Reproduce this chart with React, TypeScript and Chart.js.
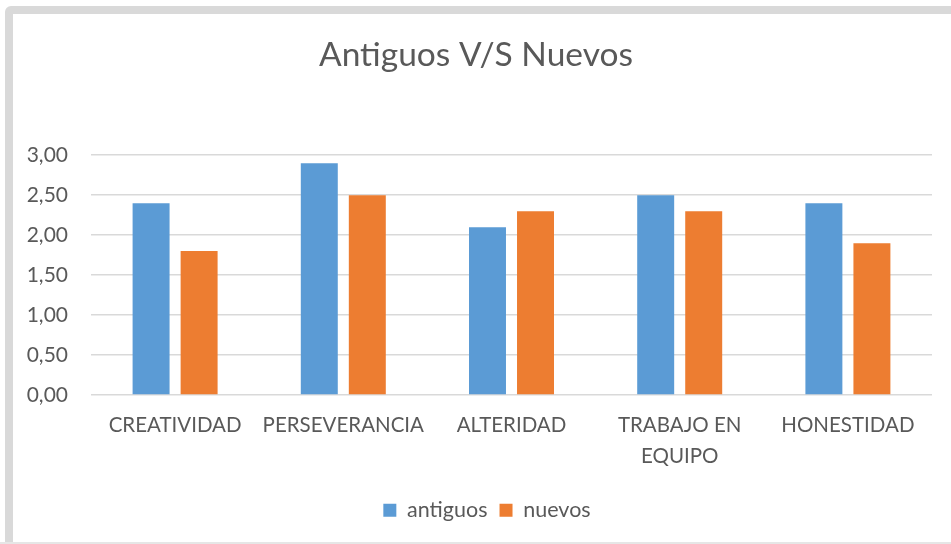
import React, { useEffect, useRef } from "react";
import { Chart, registerables } from "chart.js";

Chart.register(...registerables);

const categories: (string | string[])[] = [
  "CREATIVIDAD",
  "PERSEVERANCIA",
  "ALTERIDAD",
  ["TRABAJO EN", "EQUIPO"],
  "HONESTIDAD",
];
const antiguos = [2.4, 2.9, 2.1, 2.5, 2.4];
const nuevos = [1.8, 2.5, 2.3, 2.3, 1.9];
const yTicks = [0, 0.5, 1, 1.5, 2, 2.5, 3];
const chartTitle = "Antiguos V/S Nuevos";

const TEXT = "#595959";
const GRID = "#D9D9D9";
const FONT = "Lato, 'Open Sans', sans-serif";

const legendShift = {
  id: "legendShift",
  afterLayout(chart: any) {
    if (chart.legend) {
      chart.legend.left += 11;
      chart.legend.right += 11;
    }
  },
};

export default function App() {
  const ref = useRef<HTMLCanvasElement>(null);
  useEffect(() => {
    document.body.style.margin = "0";
    const ctx = ref.current!;
    const chart = new Chart(ctx, {
      type: "bar",
      data: {
        labels: categories,
        datasets: [
          { label: "antiguos", data: antiguos, backgroundColor: "#5B9BD5" },
          { label: "nuevos", data: nuevos, backgroundColor: "#ED7D31" },
        ],
      },
      plugins: [legendShift],
      options: {
        animation: false,
        responsive: false,
        devicePixelRatio: 1,
        layout: { padding: { left: 20, right: 19, top: 0, bottom: 13 } },
        datasets: {
          bar: { categoryPercentage: 0.571, barPercentage: 0.77 },
        },
        plugins: {
          title: {
            display: true,
            text: chartTitle,
            color: TEXT,
            font: { family: FONT, size: 33.5, weight: "normal" },
            padding: { top: 35, bottom: 80 },
          },
          legend: {
            position: "bottom",
            labels: {
              color: TEXT,
              font: { family: FONT, size: 21.5 },
              boxWidth: 13,
              boxHeight: 13,
              padding: 12,
            },
          },
          tooltip: { enabled: false },
        },
        scales: {
          x: {
            grid: { display: false },
            border: { display: false },
            afterFit: (s: any) => {
              s.height += 9;
            },
            ticks: {
              color: TEXT,
              font: { family: FONT, size: 20.5, lineHeight: 1.5 },
              maxRotation: 0,
              padding: 7,
            },
          },
          y: {
            min: 0,
            max: 3,
            afterBuildTicks: (s: any) => {
              s.ticks = yTicks.map((v) => ({ value: v }));
            },
            afterFit: (s: any) => {
              s.width = 71;
            },
            grid: { color: GRID, lineWidth: 1.5, drawTicks: false },
            border: { display: false },
            ticks: {
              color: TEXT,
              padding: 23,
              font: { family: FONT, size: 21 },
              callback: (v: any) => Number(v).toFixed(2).replace(".", ","),
            },
          },
        },
      },
    });
    return () => chart.destroy();
  }, []);
  return (
    <div style={{ position: "relative", width: 951, height: 544, overflow: "hidden", background: "#fff" }}>
      <div
        style={{
          position: "absolute",
          left: 5,
          top: 6,
          width: 1000,
          height: 544,
          boxSizing: "border-box",
          border: "8px solid #D9D9D9",
          borderRadius: 6,
        }}
      />
      <div
        style={{
          position: "absolute",
          left: 0,
          top: 542,
          width: 951,
          height: 2,
          background: "#E6E6E6",
        }}
      />
      <canvas ref={ref} width={951} height={544} style={{ position: "absolute", left: 0, top: 0 }} />
    </div>
  );
}
